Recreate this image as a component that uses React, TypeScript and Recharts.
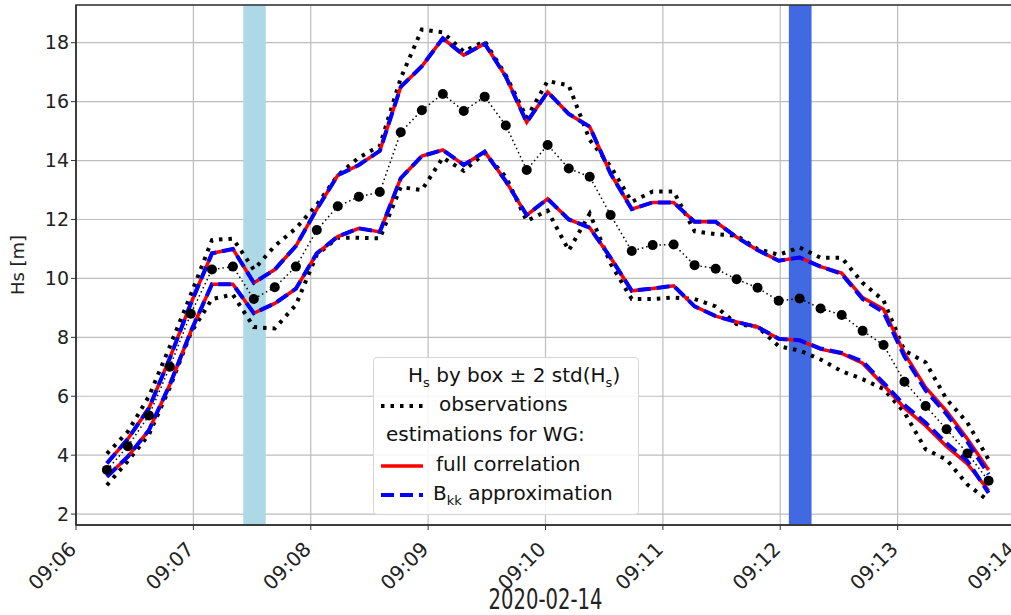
import React from 'react';
import {
  ComposedChart,
  Line,
  XAxis,
  YAxis,
  CartesianGrid,
  ReferenceArea,
} from 'recharts';

// seconds after 09:06:00 on 2020-02-14
const times = [
  15.8, 26.5, 37.3, 48.0, 58.7, 69.5, 80.2, 90.9, 101.6, 112.4, 123.1, 133.8, 144.6, 155.3, 166.0,
  176.8, 187.5, 198.2, 208.9, 219.7, 230.4, 241.1, 251.9, 262.6, 273.3, 284.1, 294.8, 305.5, 316.2,
  327.0, 337.7, 348.4, 359.2, 369.9, 380.6, 391.4, 402.1, 412.8, 423.5, 434.3, 445.0, 455.7, 466.5,
];

// Hs by box (mean of observations)
const hsBox = [
  3.5, 4.3, 5.35, 7.0, 8.8, 10.3, 10.4, 9.3, 9.7, 10.4, 11.64, 12.45, 12.77, 12.93, 14.96, 15.71,
  16.26, 15.68, 16.17, 15.19, 13.68, 14.53, 13.73, 13.45, 12.15, 10.93, 11.13, 11.15, 10.45, 10.33,
  9.97, 9.68, 9.24, 9.32, 8.98, 8.76, 8.22, 7.74, 6.49, 5.67, 4.88, 4.06, 3.13,
];

// observations ± 2 std
const obsUpper = [
  4.05, 4.8, 6.0, 7.7, 9.45, 11.3, 11.35, 10.3, 11.1, 11.7, 12.5, 13.5, 14.1, 14.5, 16.8, 18.45,
  18.35, 17.7, 18.05, 16.9, 15.45, 16.7, 16.55, 14.7, 13.8, 12.6, 12.95, 12.95, 11.6, 11.5, 11.45,
  11.0, 10.8, 11.05, 10.7, 10.7, 9.85, 9.25, 7.55, 7.15, 5.9, 5.1, 3.85,
];
const obsLower = [
  2.98, 3.8, 4.7, 6.3, 8.15, 9.3, 9.45, 8.35, 8.3, 9.1, 10.8, 11.38, 11.38, 11.36, 13.1, 13.0,
  14.1, 13.65, 14.25, 13.45, 11.95, 12.3, 10.95, 12.2, 10.5, 9.3, 9.3, 9.35, 9.3, 9.05, 8.45, 8.36,
  7.7, 7.55, 7.25, 6.85, 6.58, 6.25, 5.45, 4.2, 3.85, 3.0, 2.45,
];

// estimations for WG: full correlation
const fullUpper = [
  3.72, 4.55, 5.6, 7.3, 9.15, 10.85, 11.0, 9.85, 10.3, 11.1, 12.35, 13.5, 13.85, 14.33, 16.5, 17.2,
  18.15, 17.58, 17.97, 16.85, 15.3, 16.33, 15.58, 15.15, 13.55, 12.35, 12.58, 12.58, 11.92, 11.92,
  11.4, 10.96, 10.6, 10.71, 10.4, 10.18, 9.35, 8.95, 7.45, 6.3, 5.5, 4.55, 3.5,
];
const fullLower = [
  3.27, 3.95, 4.85, 6.4, 8.2, 9.8, 9.8, 8.82, 9.15, 9.65, 10.85, 11.42, 11.7, 11.58, 13.4, 14.15,
  14.36, 13.85, 14.3, 13.3, 12.15, 12.7, 12.0, 11.72, 10.7, 9.58, 9.66, 9.75, 9.05, 8.72, 8.52, 8.35,
  7.95, 7.9, 7.6, 7.45, 7.12, 6.38, 5.6, 5.0, 4.3, 3.7, 2.8,
];

// estimations for WG: Bkk approximation
const bkkUpper = [
  3.72, 4.55, 5.6, 7.3, 9.15, 10.85, 11.0, 9.85, 10.3, 11.1, 12.35, 13.5, 13.85, 14.33, 16.5, 17.2,
  18.15, 17.58, 17.97, 16.85, 15.3, 16.33, 15.58, 15.15, 13.55, 12.35, 12.58, 12.58, 11.92, 11.92,
  11.4, 10.96, 10.6, 10.71, 10.4, 10.15, 9.3, 8.85, 7.35, 6.2, 5.4, 4.45, 3.35,
];
const bkkLower = [
  3.27, 3.95, 4.85, 6.4, 8.2, 9.8, 9.8, 8.82, 9.15, 9.65, 10.85, 11.42, 11.7, 11.58, 13.4, 14.15,
  14.36, 13.85, 14.3, 13.3, 12.15, 12.7, 12.0, 11.72, 10.7, 9.58, 9.66, 9.75, 9.05, 8.72, 8.52, 8.35,
  7.95, 7.9, 7.62, 7.47, 7.18, 6.45, 5.7, 5.1, 4.4, 3.8, 2.72,
];

// highlighted time windows (seconds after 09:06:00)
const lightSpan = [85.5, 97.0];
const darkSpan = [364.4, 376.0];

const xTicks = [0, 60, 120, 180, 240, 300, 360, 420, 480];
const xTickLabels = ['09:06', '09:07', '09:08', '09:09', '09:10', '09:11', '09:12', '09:13', '09:14'];
const yTicks = [2, 4, 6, 8, 10, 12, 14, 16, 18];

const FONT = '"DejaVu Sans", sans-serif';

const data = times.map((t, i) => ({
  t,
  hsBox: hsBox[i],
  obsUpper: obsUpper[i],
  obsLower: obsLower[i],
  fullUpper: fullUpper[i],
  fullLower: fullLower[i],
  bkkUpper: bkkUpper[i],
  bkkLower: bkkLower[i],
}));

const TimeTick = (props: any) => {
  const { x, y, payload } = props;
  const label = xTickLabels[xTicks.indexOf(payload.value)] ?? '';
  return (
    <g transform={`translate(${x - 9},${y + 8}) rotate(-45)`}>
      <text textAnchor="end" dy="0.75em" fontSize={20} fontFamily={FONT} fill="#222">
        {label}
      </text>
    </g>
  );
};

// the date under the axis is drawn narrow and tall, like in the source figure
const DateLabel = (props: any) => {
  const vb = props.viewBox || {};
  const cx = vb.x + vb.width / 2;
  const by = vb.y + vb.height - 6;
  return (
    <text
      transform={`translate(${cx},${by}) scale(0.7,1)`}
      textAnchor="middle"
      fontSize={28}
      fontFamily={FONT}
      fill="#222"
    >
      2020-02-14
    </text>
  );
};

const Handle = ({ color, dash, width }: { color: string; dash?: string; width: number }) => (
  <svg width={46} height={12} style={{ position: 'absolute', left: 0, top: -6 }}>
    <line x1={2} y1={6} x2={44} y2={6} stroke={color} strokeWidth={width} strokeDasharray={dash} />
  </svg>
);

const LegendBox = () => {
  const row = (top: number, left: number, children: React.ReactNode) => (
    <div style={{ position: 'absolute', top, left, whiteSpace: 'nowrap', lineHeight: '20px' }}>{children}</div>
  );
  return (
    <div
      style={{
        position: 'absolute',
        left: 373,
        top: 357,
        width: 264,
        height: 156,
        background: 'rgba(255,255,255,0.85)',
        border: '1px solid #d6d6d6',
        borderRadius: 4,
        fontFamily: FONT,
        fontSize: 20,
        color: '#111',
      }}
    >
      {row(7, 34, <span>H<sub style={{ fontSize: 13 }}>s</sub> by box ± 2 std(H<sub style={{ fontSize: 13 }}>s</sub>)</span>)}
      <div style={{ position: 'absolute', top: 48, left: 5 }}>
        <Handle color="#000" dash="3.5 6" width={4} />
      </div>
      {row(36, 65, 'observations')}
      {row(66, 12, 'estimations for WG:')}
      <div style={{ position: 'absolute', top: 108, left: 5 }}>
        <Handle color="#ff0000" width={3.5} />
      </div>
      {row(96, 62, 'full correlation')}
      <div style={{ position: 'absolute', top: 137, left: 5 }}>
        <Handle color="#0000ff" dash="13 6" width={4} />
      </div>
      {row(125, 59, <span>B<sub style={{ fontSize: 13 }}>kk</sub> approximation</span>)}
    </div>
  );
};

export default function App() {
  return (
    <div style={{ position: 'fixed', left: 0, top: 0, width: 1011, height: 615, overflow: 'hidden', background: '#fff' }}>
      <ComposedChart width={1030} height={615} data={data} margin={{ top: 5, right: 15, left: 0, bottom: 0 }}>
        <ReferenceArea x1={lightSpan[0]} x2={lightSpan[1]} fill="#add8e6" fillOpacity={1} stroke="none" ifOverflow="hidden" />
        <ReferenceArea x1={darkSpan[0]} x2={darkSpan[1]} fill="#4169e1" fillOpacity={1} stroke="none" ifOverflow="hidden" />
        <CartesianGrid stroke="#bdbdbd" strokeWidth={1.2} />
        <XAxis
          dataKey="t"
          type="number"
          domain={[0, 480]}
          ticks={xTicks}
          allowDataOverflow
          height={90}
          tick={<TimeTick />}
          tickSize={5}
          axisLine={{ stroke: '#333', strokeWidth: 1.5 }}
          tickLine={{ stroke: '#333' }}
          label={<DateLabel />}
        />
        <YAxis
          type="number"
          domain={[1.63, 19.28]}
          ticks={yTicks}
          allowDataOverflow
          width={76}
          tickSize={5}
          axisLine={{ stroke: '#333', strokeWidth: 1.5 }}
          tickLine={{ stroke: '#333' }}
          tick={{ fontSize: 19, fontFamily: FONT, fill: '#222' }}
          label={{ value: 'Hs [m]', angle: -90, position: 'insideLeft', offset: 18, fontSize: 18, fontFamily: FONT, fill: '#222', style: { textAnchor: 'middle' } }}
        />
        <ReferenceArea x1={0} x2={480} y1={1.63} y2={19.28} fill="none" stroke="#333" strokeWidth={1.5} />
        <Line dataKey="obsUpper" stroke="#000" strokeWidth={4} strokeDasharray="3.5 6" dot={false} isAnimationActive={false} />
        <Line dataKey="obsLower" stroke="#000" strokeWidth={4} strokeDasharray="3.5 6" dot={false} isAnimationActive={false} />
        <Line dataKey="fullUpper" stroke="#ff0000" strokeWidth={3.5} dot={false} isAnimationActive={false} />
        <Line dataKey="fullLower" stroke="#ff0000" strokeWidth={3.5} dot={false} isAnimationActive={false} />
        <Line dataKey="bkkUpper" stroke="#0000ff" strokeWidth={4} strokeDasharray="13 6" dot={false} isAnimationActive={false} />
        <Line dataKey="bkkLower" stroke="#0000ff" strokeWidth={4} strokeDasharray="13 6" dot={false} isAnimationActive={false} />
        <Line
          dataKey="hsBox"
          stroke="#000"
          strokeWidth={1.5}
          strokeDasharray="1.5 3"
          dot={{ r: 5, fill: '#000', stroke: 'none' }}
          isAnimationActive={false}
        />
      </ComposedChart>
      <LegendBox />
    </div>
  );
}
